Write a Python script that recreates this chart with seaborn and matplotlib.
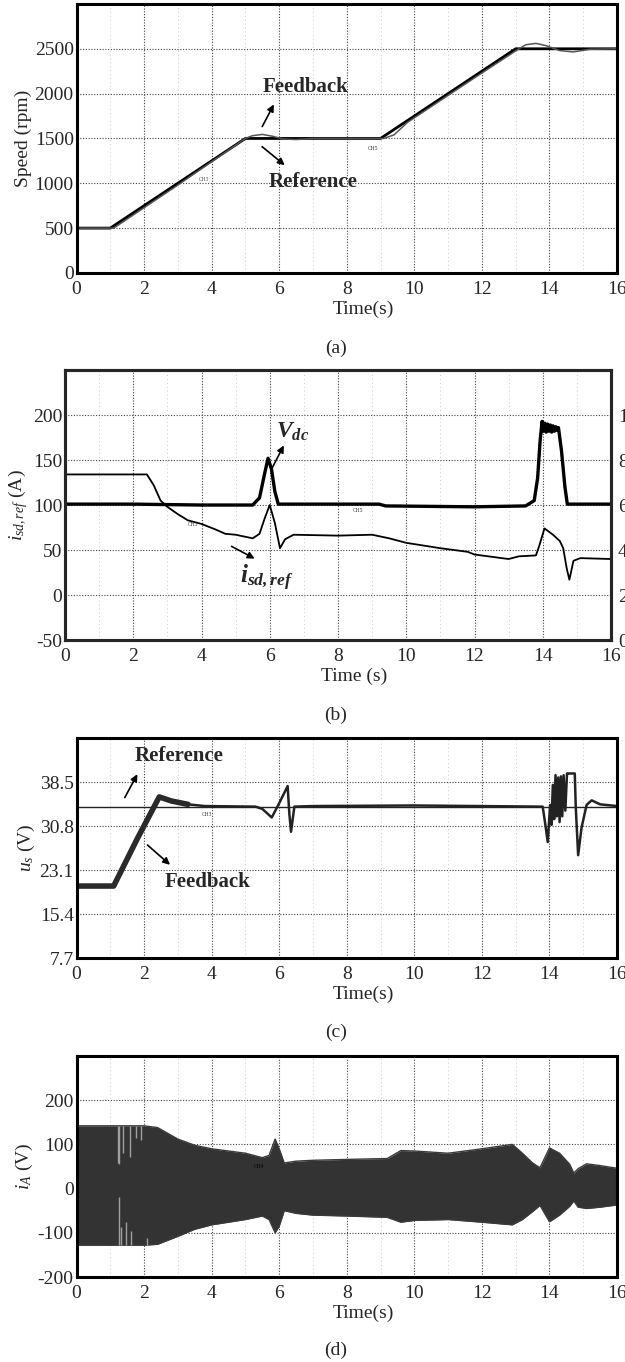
import matplotlib
matplotlib.use("Agg")
import matplotlib.pyplot as plt
import seaborn as sns
from matplotlib.ticker import MultipleLocator

# ---- data ----
# (a) speed
speed_t_ref = [0, 1, 5, 9, 13, 16]
speed_ref = [500, 500, 1500, 1500, 2500, 2500]
speed_t_fb = [0, 1.1, 3, 5.0, 5.2, 5.5, 5.8, 6.1, 6.5, 7, 9.1, 9.4, 9.8, 12, 13.1,
              13.3, 13.6, 13.9, 14.3, 14.7, 15.2, 16]
speed_fb = [500, 500, 980, 1500, 1530, 1545, 1525, 1495, 1488, 1500, 1500, 1540, 1680,
            2230, 2500, 2545, 2560, 2535, 2480, 2465, 2495, 2500]

# (b) Vdc and i_sd,ref
vdc_t = [0, 2, 4, 5.5, 5.7, 5.85, 5.95, 6.05, 6.15, 6.25, 6.35, 8, 9.2, 9.4, 12, 13.5,
         13.75, 13.85, 13.92, 13.98, 14.02, 14.06, 14.1, 14.14, 14.18, 14.22, 14.26,
         14.3, 14.34, 14.38, 14.42, 14.46, 14.55, 14.65, 14.72, 15, 16]
vdc = [101, 101, 100, 100, 108, 135, 152, 140, 115, 101, 101, 101, 101, 99, 98, 99,
       105, 130, 170, 193, 182, 191, 181, 190, 182, 189, 181, 188, 182, 187, 183, 186,
       160, 120, 101, 101, 101]
isd_t = [0, 2.4, 2.6, 2.8, 3.0, 3.3, 3.6, 4.0, 4.4, 4.7, 5.0, 5.5, 5.7, 5.85, 6.0, 6.15,
         6.3, 6.45, 6.7, 8, 9, 9.5, 10, 11, 11.8, 12, 13, 13.3, 13.8, 13.9, 14.05, 14.3,
         14.5, 14.6, 14.7, 14.78, 14.9, 15.1, 16]
isd = [134, 134, 122, 105, 98, 90, 83, 79, 73, 68, 67, 63, 68, 85, 100, 80, 52, 62, 67,
       66, 67, 63, 58, 52, 48, 45, 40, 43, 44, 55, 74, 67, 60, 52, 30, 17, 38, 41, 40]
vdc_ticks_right = [0, 20, 40, 60, 80, 100]

# (c) stator voltage
us_t_ref = [0, 16]
us_ref = [34.2, 34.2]
us_t_fb = [0, 1.1, 1.8, 2.45, 2.8, 3.3, 3.8, 5.3, 5.5, 5.78, 6.0, 6.25, 6.3, 6.35, 6.45,
           7, 10, 13.8, 13.88, 13.95, 14.02, 14.06, 14.1, 14.14, 14.18, 14.22, 14.26,
           14.3, 14.34, 14.38, 14.42, 14.47, 14.52, 14.55, 14.75, 14.78, 14.85, 14.95,
           15.1, 15.25, 15.5, 16]
us_fb = [20.3, 20.3, 28.6, 35.9, 35.2, 34.6, 34.3, 34.2, 33.8, 32.3, 34.8, 37.8, 33.0,
         29.8, 34.2, 34.3, 34.4, 34.2, 31.0, 28.0, 34.5, 31.0, 38.0, 32.0, 39.7, 32.5,
         39.3, 31.5, 39.5, 32.5, 39.7, 33.5, 40.0, 40.0, 40.0, 34.0, 25.7, 30.5, 34.5,
         35.3, 34.6, 34.3]
us_ticks = [7.7, 15.4, 23.1, 30.8, 38.5]

# (d) phase current envelope
ia_t = [0, 1, 2, 2.4, 3, 3.5, 4, 5, 5.5, 5.7, 5.88, 6.0, 6.15, 6.5, 7, 8, 9.2, 9.6, 10,
        11, 12, 12.9, 13.2, 13.5, 13.72, 14.0, 14.3, 14.6, 14.72, 14.85, 15.1, 15.5, 16]
ia_upper = [142, 142, 142, 138, 112, 98, 90, 80, 70, 75, 112, 90, 58, 62, 64, 66, 68, 86,
            85, 80, 90, 100, 80, 58, 47, 92, 80, 55, 35, 45, 56, 52, 46]
ia_lower = [-128, -128, -128, -126, -108, -92, -82, -70, -62, -70, -100, -85, -50, -56,
            -60, -62, -65, -76, -72, -70, -76, -82, -70, -52, -38, -75, -60, -40, -28,
            -42, -45, -42, -37]
spike_t_up = [1.22, 1.27, 1.39, 1.57, 1.75, 1.92]
spike_end_up = [58, 55, 80, 72, 115, 110]
spike_t_dn = [1.25, 1.33, 1.48, 1.6, 2.1]
spike_end_dn = [-19, -86, -75, -95, -112]

time_ticks = list(range(0, 17, 2))

# ---- style ----
sns.set_theme(style="white")
plt.rcParams['font.family'] = ['Liberation Serif', 'DejaVu Serif']
plt.rcParams['axes.unicode_minus'] = False
plt.rcParams['mathtext.fontset'] = 'custom'
plt.rcParams['mathtext.rm'] = 'Liberation Serif'
plt.rcParams['mathtext.it'] = 'Liberation Serif:italic'
plt.rcParams['mathtext.bf'] = 'Liberation Serif:italic:bold'

FS = 14
grid_kw = dict(color='#444444', linestyle=(0, (1, 1.5)), linewidth=0.8)
minor_kw = dict(color='#c8c8c8', linestyle=(0, (1, 3)), linewidth=0.7)
arrow_kw = dict(arrowstyle='-|>', color='black', lw=1.2, mutation_scale=10)

fig = plt.figure(figsize=(6.25, 13.62), dpi=100)
ax_a = fig.add_axes([0.1224, 0.7996, 0.8648, 0.1975])
ax_b = fig.add_axes([0.104, 0.5301, 0.8736, 0.1982])
ax_c = fig.add_axes([0.1224, 0.2966, 0.8648, 0.1615])
ax_d = fig.add_axes([0.1224, 0.0624, 0.8648, 0.1623])


def style_axis(ax, xlabel):
    ax.set_xlim(0, 16)
    ax.set_xticks(time_ticks)
    ax.xaxis.set_minor_locator(MultipleLocator(1))
    ax.grid(True, which='major', **grid_kw)
    ax.grid(True, which='minor', axis='x', **minor_kw)
    ax.tick_params(which='both', length=0, labelsize=FS)
    ax.tick_params(axis='x', pad=6)
    ax.tick_params(axis='y', pad=2)
    for s in ax.spines.values():
        s.set_linewidth(2.2)
        s.set_color('black')
    ax.set_xlabel(xlabel, fontsize=FS, labelpad=2)
    ax.xaxis.label.set_x(0.53)


# (a)
sns.lineplot(x=speed_t_ref, y=speed_ref, ax=ax_a, color='black', lw=2.0, estimator=None)
sns.lineplot(x=speed_t_fb, y=speed_fb, ax=ax_a, color='#555555', lw=1.1, estimator=None)
ax_a.set_ylim(0, 3000)
ax_a.set_yticks([0, 500, 1000, 1500, 2000, 2500])
ax_a.set_ylabel('Speed (rpm)', fontsize=FS, labelpad=2)
style_axis(ax_a, 'Time(s)')
ax_a.text(6.79, 2074, 'Feedback', fontsize=15, fontweight='bold', ha='center', va='center')
ax_a.annotate('', xy=(5.88, 1907), xytext=(5.46, 1605), arrowprops=arrow_kw)
ax_a.text(7.0, 1015, 'Reference', fontsize=15, fontweight='bold', ha='center', va='center')
ax_a.annotate('', xy=(6.23, 1182), xytext=(5.43, 1428), arrowprops=arrow_kw)
ax_a.text(3.78, 1037, 'CH3', fontsize=4, color='#555555', ha='center', va='center')
ax_a.text(8.78, 1383, 'CH5', fontsize=4, color='#333333', ha='center', va='center')

# (b)
sns.lineplot(x=vdc_t, y=vdc, ax=ax_b, color='black', lw=2.4, estimator=None)
sns.lineplot(x=isd_t, y=isd, ax=ax_b, color='black', lw=1.3, estimator=None)
ax_b.set_ylim(-50, 250)
ax_b.set_yticks([-50, 0, 50, 100, 150, 200])
ax_b.set_ylabel(r'$i_{sd,ref}$ (A)', fontsize=FS, labelpad=2)
style_axis(ax_b, 'Time (s)')
ax_b2 = ax_b.twinx()
ax_b2.set_ylim(0, 120)
ax_b2.set_yticks(vdc_ticks_right)
ax_b2.tick_params(length=0, labelsize=FS, pad=5)
ax_b2.grid(False)
for s in ax_b2.spines.values():
    s.set_linewidth(2.2)
ax_b.text(6.68, 181, r'$\mathbf{V}_{\mathbf{dc}}$', fontsize=17, ha='center', va='center')
ax_b.annotate('', xy=(6.45, 169), xytext=(6.04, 139), arrowprops=arrow_kw)
ax_b.text(5.92, 19, r'$\mathbf{i}_{\mathbf{sd,ref}}$', fontsize=18, ha='center', va='center')
ax_b.annotate('', xy=(5.63, 39), xytext=(4.81, 55.5), arrowprops=arrow_kw)
ax_b.text(3.75, 78, 'CH3', fontsize=4, color='#333333', ha='center', va='center')
ax_b.text(8.6, 94, 'CH5', fontsize=4, color='#333333', ha='center', va='center')

# (c)
sns.lineplot(x=us_t_ref, y=us_ref, ax=ax_c, color='#222222', lw=1.0, estimator=None)
sns.lineplot(x=us_t_fb, y=us_fb, ax=ax_c, color='#222222', lw=1.8, estimator=None)
sns.lineplot(x=us_t_fb[:6], y=us_fb[:6], ax=ax_c, color='#2a2a2a', lw=4.0, estimator=None)
ax_c.set_ylim(7.7, 46.2)
ax_c.set_yticks(us_ticks)
ax_c.set_yticklabels([f'{v:.1f}' for v in us_ticks])
ax_c.set_ylabel(r'$u_s$ (V)', fontsize=FS, labelpad=2)
style_axis(ax_c, 'Time(s)')
ax_c.text(3.04, 43.05, 'Reference', fontsize=15, fontweight='bold', ha='center', va='center')
ax_c.annotate('', xy=(1.84, 40.3), xytext=(1.39, 35.35), arrowprops=arrow_kw)
ax_c.text(3.87, 21.05, 'Feedback', fontsize=15, fontweight='bold', ha='center', va='center')
ax_c.annotate('', xy=(2.83, 23.7), xytext=(2.04, 27.8), arrowprops=arrow_kw)
ax_c.text(3.87, 32.9, 'CH3', fontsize=4, color='#333333', ha='center', va='center')

# (d)
ax_d.fill_between(ia_t, ia_lower, ia_upper, color='#333333', lw=0)
sns.lineplot(x=ia_t, y=ia_upper, ax=ax_d, color='#3a3a3a', lw=1.0, estimator=None)
sns.lineplot(x=ia_t, y=ia_lower, ax=ax_d, color='#3a3a3a', lw=1.0, estimator=None)
ax_d.vlines(spike_t_up, spike_end_up, 142, color='#a0a0a0', lw=1.0)
ax_d.vlines(spike_t_dn, -128, spike_end_dn, color='#a0a0a0', lw=1.0)
ax_d.set_ylim(-200, 300)
ax_d.set_yticks([-200, -100, 0, 100, 200])
ax_d.set_ylabel(r'$i_A$ (V)', fontsize=FS, labelpad=2)
style_axis(ax_d, 'Time(s)')
ax_d.text(5.4, 51, 'CH4', fontsize=4, color='black', ha='center', va='center')

# captions
for y, lab in [(0.7445, '(a)'), (0.475, '(b)'), (0.2423, '(c)'), (0.0088, '(d)')]:
    fig.text(0.537, y, lab, fontsize=FS, ha='center', va='center')

fig.savefig('out.png', dpi=100)
